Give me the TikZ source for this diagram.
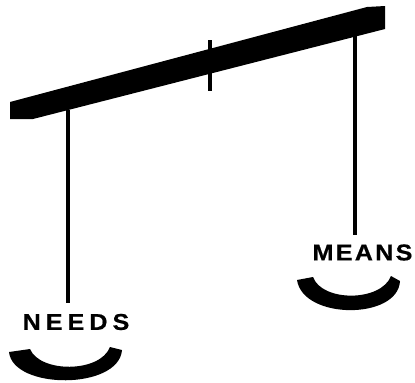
\documentclass[tikz,border=0pt]{standalone}
\usepackage{fontspec}
\newfontfamily\panfont[FakeStretch=1.1, FakeBold=0.6]{Liberation Sans Bold}
\usetikzlibrary{positioning}

\begin{document}
\begin{tikzpicture}[x=0.02cm, y=-0.02cm,
    string/.style={line width=2pt},
    panlabel/.style={font=\fontsize{13}{15}\selectfont\panfont\addfontfeature{LetterSpace=#1}, inner sep=0pt}]
  \useasboundingbox (0,0) rectangle (415,382);

  % Beam and pivot
  \fill (10,102) -- (367,7) -- (385,6) -- (385,29) -- (33,119) -- (10,119) -- cycle;
  \coordinate (pivotT) at (210,40);
  \coordinate (pivotB) at (210,91);
  \draw[line width=2.4pt] (pivotT) -- (pivotB);

  % Left side: NEEDS
  \coordinate (hookL) at (68,110);
  \coordinate (endL) at (68,303);
  \draw[string] (hookL) -- (endL);
  \node[panlabel=22] (needs) at (76,322) {NEEDS};
  \fill (9,352) .. controls (13,390) and (119,390) .. (122,350)
    -- (110,347) .. controls (100,373) and (40,373) .. (30,349) -- cycle;

  % Right side: MEANS
  \coordinate (hookR) at (355,34);
  \coordinate (endR) at (355,235);
  \draw[string] (hookR) -- (endR);
  \node[panlabel=10] (means) at (362.5,252.5) {MEANS};
  \fill (297,280) .. controls (303,320) and (398,320) .. (400,281)
    -- (391,276) .. controls (381,302) and (322,302) .. (313,277) -- cycle;
\end{tikzpicture}
\end{document}
